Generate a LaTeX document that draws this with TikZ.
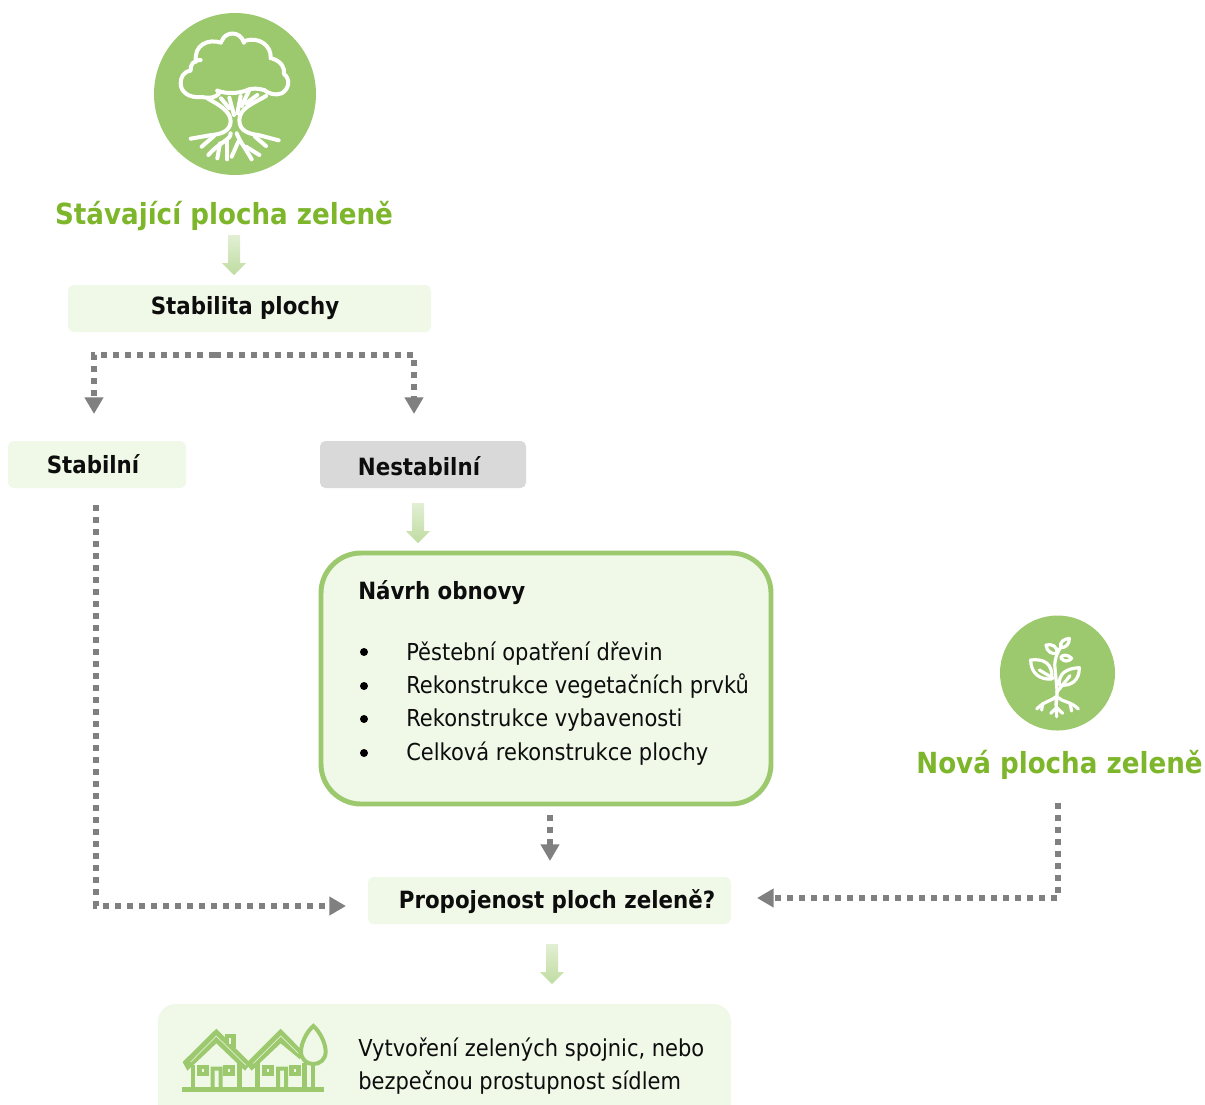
\documentclass[tikz,border=0pt]{standalone}
\usepackage{fontspec}
\setmainfont{DejaVu Sans}[FakeStretch=0.9]
\usetikzlibrary{arrows.meta,calc}
\definecolor{gleaf}{HTML}{9DC96E}
\definecolor{ghead}{HTML}{7DB52B}
\definecolor{gpale}{HTML}{F0F8E8}
\definecolor{ggray}{HTML}{808080}
\tikzset{
  x=0.75pt,y=-0.75pt,
  box/.style={fill=gpale,rounded corners=4pt},
  lbl/.style={font=\fontsize{17.8}{20}\selectfont\bfseries,text=black!95,inner sep=0pt,anchor=base},
  txt/.style={font=\fontsize{17.5}{20}\selectfont,text=black!95,inner sep=0pt,anchor=base west},
  head/.style={font=\fontsize{21.8}{26}\selectfont\bfseries,text=ghead,inner sep=0pt,anchor=base},
  dotline/.style={draw=ggray,line width=4.3pt,dash pattern=on 4.5pt off 4.5pt,-{Triangle[width=13.5pt,length=12.5pt]}},
  gradarr/.style={top color=gleaf!30,bottom color=gleaf!65,draw=none},
  icon/.style={draw=white,line width=3pt,line cap=round,line join=round,fill=none},
  iconb/.style={draw=white,line width=2.4pt,line cap=round,line join=round,fill=none},
}
\newcommand{\gradarrow}[1]{%
  \shade[gradarr] ($(#1)+(-6,0)$) -- ($(#1)+(6,0)$) -- ($(#1)+(6,28)$) -- ($(#1)+(12,28)$) -- ($(#1)+(0,40)$) -- ($(#1)+(-12,28)$) -- ($(#1)+(-6,28)$) -- cycle;}
\begin{document}
\begin{tikzpicture}
\useasboundingbox (0,0) rectangle (1205,1104);
\clip (0,0) rectangle (1205,1104);

% circles
\fill[gleaf] (235,94) circle[radius=81];
\fill[gleaf] (1057.5,673) circle[radius=57.5];

% tree
\begin{scope}[shift={(140,0)},x=0.25pt,y=-0.25pt]
\draw[icon] (182,180) .. controls (160,180) and (150,195) .. (152,212)
  .. controls (130,215) and (122,232) .. (122,250)
  .. controls (122,275) and (145,295) .. (185,291);
\draw[icon] (168,185) .. controls (160,135) and (205,115) .. (243,128);
\draw[icon] (246,122) .. controls (255,95) and (300,90) .. (312,128);
\draw[icon] (316,122) .. controls (355,110) and (395,135) .. (392,175);
\draw[icon] (398,176) .. controls (425,185) and (435,205) .. (432,222)
  .. controls (450,235) and (450,265) .. (425,280)
  .. controls (405,288) and (385,280) .. (372,270);
\draw[icon] (372,270) .. controls (355,265) and (340,265) .. (328,268);
\draw[icon] (328,268) .. controls (295,282) and (260,282) .. (232,272);
\draw[icon] (232,272) -- (238,280) .. controls (225,295) and (205,295) .. (185,291);
% trunk
\draw[icon] (205,297) .. controls (250,320) and (272,340) .. (272,365)
  .. controls (270,395) and (240,403) .. (215,405) -- (152,416);
\draw[icon] (378,288) .. controls (340,310) and (298,325) .. (298,360)
  .. controls (298,395) and (330,402) .. (355,405) -- (416,421);
\draw[icon] (243,295) -- (268,325);
\draw[icon] (268,293) -- (282,345);
\draw[icon] (302,288) -- (292,340);
\draw[icon] (328,270) -- (305,318);
\draw[icon] (352,285) -- (318,310);
% roots
\draw[icon] (272,400) .. controls (272,420) and (240,425) .. (205,465);
\draw[icon] (240,430) -- (232,475);
\draw[icon] (222,408) -- (185,440);
\draw[icon] (262,425) -- (262,478);
\draw[icon] (290,400) .. controls (300,425) and (310,435) .. (335,478);
\draw[icon] (295,425) -- (275,470);
\draw[icon] (318,440) -- (358,465);
\draw[icon] (345,410) -- (378,438);
\end{scope}

% plant
\begin{scope}[shift={(990,605)},x=0.25pt,y=-0.25pt]
\draw[iconb] (198,300) .. controls (205,260) and (198,230) .. (195,190) .. controls (192,165) and (200,145) .. (215,122);
\draw[iconb] (122,165) .. controls (160,160) and (190,175) .. (185,222) .. controls (150,225) and (122,205) .. (122,165) -- cycle;
\draw[iconb] (148,195) -- (190,220);
\draw[iconb] (268,188) .. controls (230,190) and (205,205) .. (208,240) .. controls (245,245) and (268,225) .. (268,188) -- cycle;
\draw[iconb] (200,262) -- (240,212);
\draw[iconb] (168,120) .. controls (185,115) and (205,125) .. (200,145) .. controls (185,148) and (170,140) .. (168,120) -- cycle;
\draw[iconb] (238,100) .. controls (222,102) and (208,110) .. (212,128) .. controls (228,128) and (238,118) .. (238,100) -- cycle;
\draw[iconb] (245,160) .. controls (235,148) and (215,148) .. (212,158) .. controls (220,170) and (235,172) .. (245,160) -- cycle;
\draw[iconb] (198,275) .. controls (190,285) and (160,290) .. (140,312);
\draw[iconb] (158,295) -- (155,315);
\draw[iconb] (205,278) .. controls (215,290) and (245,290) .. (265,312);
\draw[iconb] (240,295) -- (245,318);
\draw[iconb] (198,280) -- (200,335);
\draw[iconb] (182,325) -- (200,308) -- (218,325);
\end{scope}

% boxes and labels
\fill[box] (68,285) rectangle (431,332);
\fill[box] (8,441) rectangle (186,488);
\fill[fill=black!15,rounded corners=4pt] (320,441) rectangle (526,488);
\fill[box] (368,877) rectangle (731,924);
\fill[gpale,rounded corners=13pt] (158,1004) rectangle (731,1130);
\draw[gleaf,fill=gpale,line width=3.7pt,rounded corners=30pt] (321,553) rectangle (771,804);

\node[head] (stav) at (224,224) {Stávající plocha zeleně};
\node[head] (nova) at (1059.5,773) {Nová plocha zeleně};
\node[lbl] (stabilita) at (245,314) {Stabilita plochy};
\node[lbl] (stabilni) at (93,473) {Stabilní};
\node[lbl] (nestabilni) at (419,475) {Nestabilní};
\node[lbl,anchor=base west] (navrh) at (358,599) {Návrh obnovy};
\node[lbl] (propoj) at (557,908) {Propojenost ploch zeleně?};
\node[txt] (t1) at (406,660) {Pěstební opatření dřevin};
\node[txt] (t2) at (406,693) {Rekonstrukce vegetačních prvků};
\node[txt] (t3) at (406,726.5) {Rekonstrukce vybavenosti};
\node[txt] (t4) at (406,760) {Celková rekonstrukce plochy};
\foreach \yy in {652,686,719,753} \fill[black] (364,\yy) circle[radius=4];
\node[txt] (b1) at (358,1056) {Vytvoření zelených spojnic, nebo};
\node[txt] (b2) at (358,1089) {bezpečnou prostupnost sídlem};

% gradient arrows
\coordinate (g1) at (234,235); \gradarrow{g1}
\coordinate (g2) at (418,503); \gradarrow{g2}
\coordinate (g3) at (552,944); \gradarrow{g3}

% dotted connectors
\coordinate (m) at (215,355);
\coordinate (l) at (94,414);
\coordinate (r) at (414,414);
\draw[dotline] (m) -| (l);
\draw[dotline] (m) -| (r);
\coordinate (s0) at (96,505);
\coordinate (s1) at (346,906);
\draw[dotline] (s0) |- (s1);
\coordinate (n0) at (550,815);
\coordinate (n1) at (550,861);
\draw[dotline] (n0) -- (n1);
\coordinate (p0) at (1058,803);
\coordinate (p1) at (757,898);
\draw[dotline] (p0) |- (p1);

% houses
\begin{scope}[shift={(150,1000)},x=0.25pt,y=-0.25pt]
\fill[gleaf] (97,260) rectangle (522,275);
\fill[gleaf] (98,186) -- (199,86) -- (295,183) -- (392,86) -- (450,145) -- (450,178) -- (392,130) -- (305,212) -- (295,200) -- (285,212) -- (199,130) -- (112,212) -- cycle;
\fill[gleaf] (225,102) rectangle (257,145);
\fill[gleaf] (122,195) rectangle (135,262);
\fill[gleaf] (262,190) rectangle (276,262);
\fill[gleaf] (316,190) rectangle (330,262);
\fill[gleaf] (455,190) rectangle (470,262);
\fill[gleaf] (141,195) rectangle (176,228);
\fill[gleaf] (220,195) rectangle (256,228);
\fill[gleaf] (336,195) rectangle (372,228);
\fill[gleaf] (416,195) rectangle (452,228);
\fill[gleaf] (182,200) -- (218,200) -- (218,262) -- (206,262) -- (206,212) -- (194,212) -- (194,262) -- (182,262) -- cycle;
\fill[gleaf] (378,200) -- (414,200) -- (414,262) -- (402,262) -- (402,212) -- (390,212) -- (390,262) -- (378,262) -- cycle;
\fill[gpale] (155,208) rectangle (161,216);
\fill[gpale] (235,208) rectangle (241,216);
\fill[gpale] (351,208) rectangle (357,216);
\fill[gpale] (431,208) rectangle (437,216);
\draw[gpale,line width=0.4pt] (122,186) -- (199,108) -- (288,196);
\draw[gpale,line width=0.4pt] (310,190) -- (392,108) -- (445,160);
\fill[gpale] (238,114) rectangle (243,132);
\draw[gleaf,line width=3pt,fill=gpale] (490,78) .. controls (510,95) and (527,130) .. (527,155) .. controls (527,178) and (510,192) .. (490,192) .. controls (470,192) and (453,178) .. (453,155) .. controls (453,130) and (470,95) .. (490,78) -- cycle;
\fill[gleaf] (484,192) rectangle (496,262);
\end{scope}
\end{tikzpicture}
\end{document}
